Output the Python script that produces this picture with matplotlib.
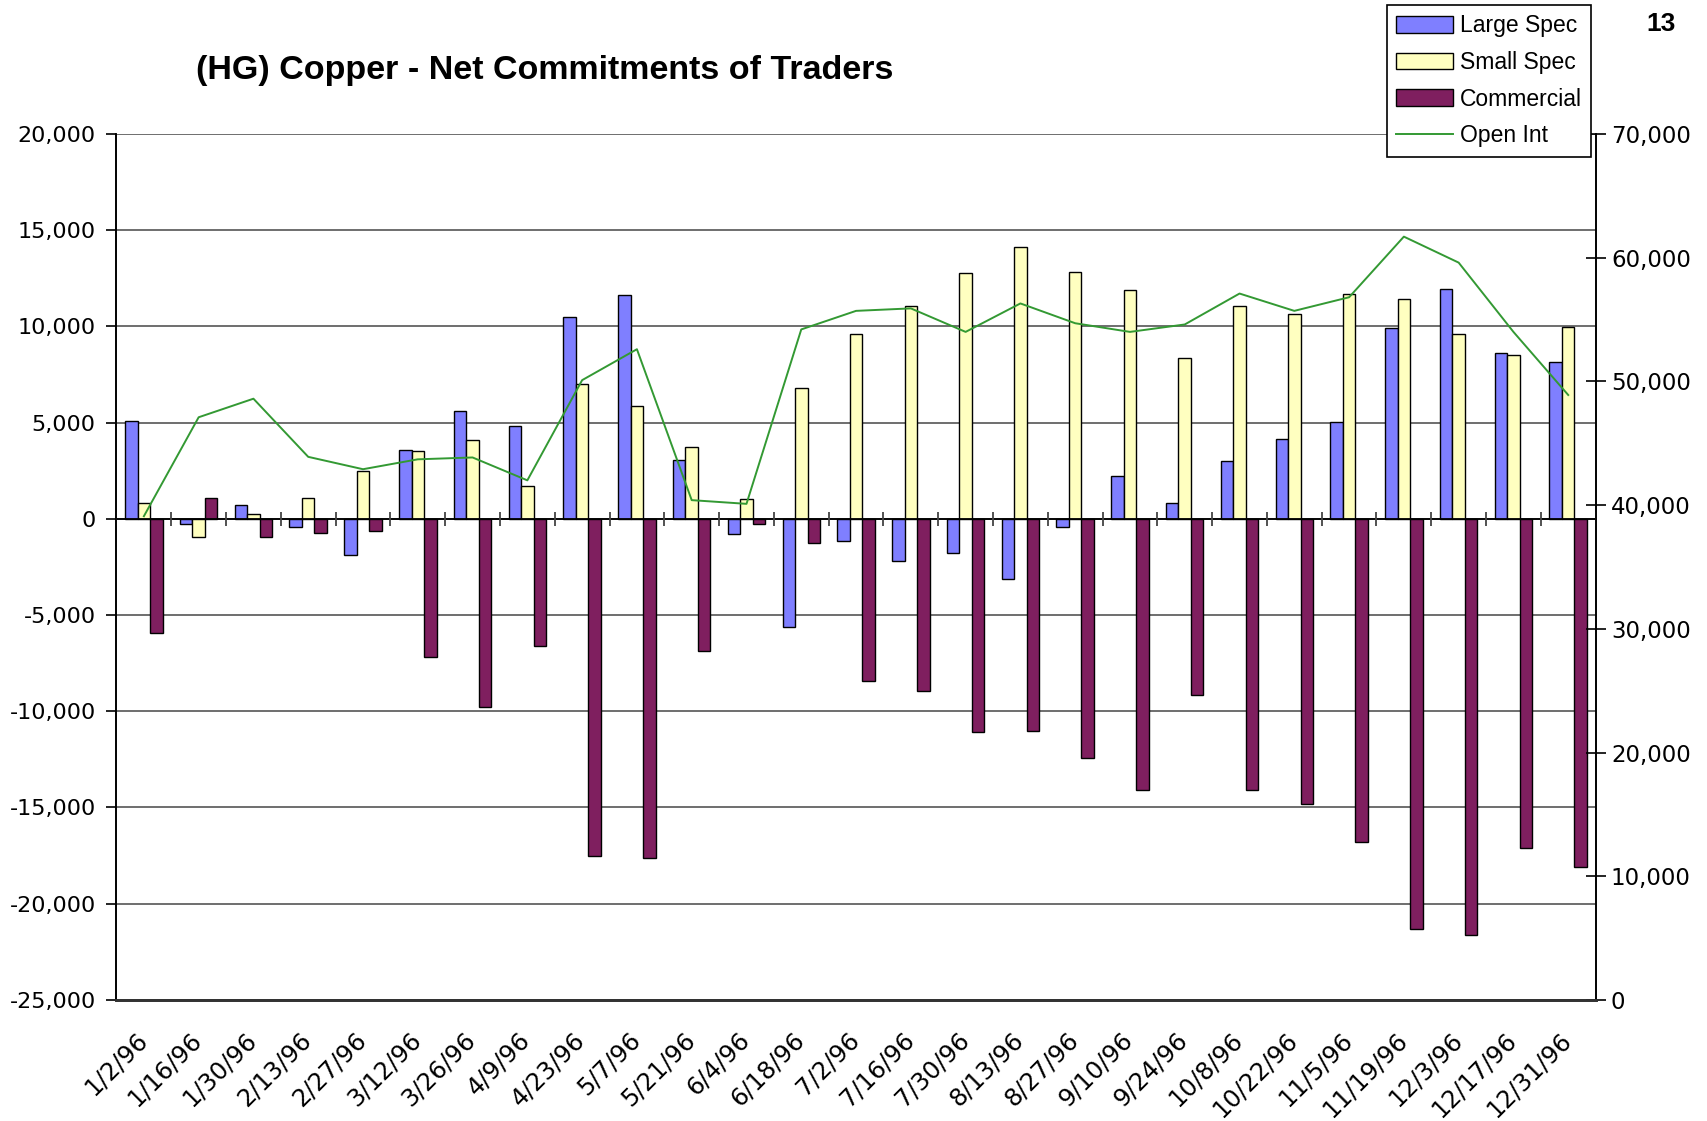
import numpy as np
import matplotlib
matplotlib.use('Agg')
import matplotlib.pyplot as plt
import matplotlib.transforms as mtransforms

dates = ['1/2/96', '1/16/96', '1/30/96', '2/13/96', '2/27/96', '3/12/96', '3/26/96',
         '4/9/96', '4/23/96', '5/7/96', '5/21/96', '6/4/96', '6/18/96', '7/2/96',
         '7/16/96', '7/30/96', '8/13/96', '8/27/96', '9/10/96', '9/24/96', '10/8/96',
         '10/22/96', '11/5/96', '11/19/96', '12/3/96', '12/17/96', '12/31/96']

large_spec = [5100, -250, 700, -400, -1900, 3600, 5600, 4850, 10500, 11650, 3050, -800,
              -5600, -1150, -2200, -1750, -3150, -450, 2200, 800, 3000, 4150, 5050,
              9900, 11950, 8600, 8150]
small_spec = [800, -950, 250, 1100, 2500, 3550, 4100, 1700, 7000, 5850, 3750, 1050,
              6800, 9600, 11050, 12800, 14150, 12850, 11900, 8350, 11050, 10650, 11700,
              11400, 9600, 8500, 9950]
commercial = [-5950, 1100, -950, -750, -650, -7200, -9800, -6600, -17500, -17600, -6850,
              -250, -1250, -8450, -8950, -11100, -11050, -12450, -14100, -9150, -14100,
              -14800, -16800, -21300, -21600, -17100, -18100]
open_int = [39100, 47100, 48600, 43900, 42900, 43700, 43850, 42000, 50100, 52600, 40400,
            40100, 54200, 55700, 55900, 54000, 56300, 54700, 54000, 54600, 57100, 55700,
            56800, 61700, 59600, 54000, 48900]

c_large = '#7f7fff'
c_small = '#ffffc0'
c_comm = '#7f1f5f'
c_oi = '#339933'

tick_font = 'DejaVu Sans'
text_font = 'Liberation Sans'

fig = plt.figure(figsize=(17.08, 11.21), dpi=100)
ax = fig.add_axes([0.0682, 0.108, 0.866, 0.7725])
ax2 = ax.twinx()

x = np.arange(len(dates))
w = 0.228
b1 = ax.bar(x - w, large_spec, w, color=c_large, edgecolor='black', linewidth=1.0, zorder=3, label='Large Spec')
b2 = ax.bar(x, small_spec, w, color=c_small, edgecolor='black', linewidth=1.0, zorder=3, label='Small Spec')
b3 = ax.bar(x + w, commercial, w, color=c_comm, edgecolor='black', linewidth=1.0, zorder=3, label='Commercial')

ax.set_ylim(-25000, 20000)
ax.set_xlim(-0.5, len(dates) - 0.5)
ax.set_yticks(np.arange(-25000, 20001, 5000))
ax.set_yticklabels(['{:,}'.format(v) for v in range(-25000, 20001, 5000)],
                   fontsize=16, family=tick_font)
ax.yaxis.grid(True, color='#555555', linewidth=1.2, zorder=0)
ax.set_axisbelow(True)

# zero line with category separators
ax.axhline(0, color='black', linewidth=1.3, zorder=4)
ax.vlines(np.arange(len(dates) + 1) - 0.5, -370, 370, color='#444444', linewidth=1.3, zorder=4)

ax.set_xticks(x)
ax.set_xticklabels(dates, rotation=45, ha='right', rotation_mode='anchor',
                   fontsize=17.5, family=tick_font)
ax.tick_params(axis='x', length=0, pad=20)
ax.tick_params(axis='y', direction='out', length=7, width=1.2, pad=8)
shift = mtransforms.ScaledTranslation(-9 / 100, 0, fig.dpi_scale_trans)
for lab in ax.get_xticklabels():
    lab.set_transform(lab.get_transform() + shift)

ax2.plot(x, open_int, color=c_oi, linewidth=1.4, zorder=5, label='Open Int')
ax2.set_ylim(0, 70000)
ax2.set_yticks(np.arange(0, 70001, 10000))
ax2.set_yticklabels(['{:,}'.format(v) for v in range(0, 70001, 10000)],
                    fontsize=16.5, family=tick_font)
ax2.tick_params(axis='y', direction='inout', length=14, width=1.2, pad=4)

for a in (ax, ax2):
    a.spines['top'].set_visible(False)
    a.spines['left'].set_linewidth(1.2)
    a.spines['right'].set_linewidth(1.2)
    a.spines['bottom'].set_linewidth(2.0)
    a.spines['bottom'].set_color('#333333')

fig.text(0.319, 0.937, '(HG) Copper - Net Commitments of Traders', fontsize=24.5,
         fontweight='bold', family=text_font, ha='center', va='center')
fig.text(0.9725, 0.979, '13', fontsize=19, fontweight='bold', family=text_font,
         ha='center', va='center')

handles = [b1, b2, b3, ax2.lines[0]]
leg = fig.legend(handles, [h.get_label() for h in handles], loc='upper left',
                 bbox_to_anchor=(1387 / 1708, 1 - 5 / 1121), prop={'family': text_font, 'size': 16.5},
                 frameon=True, fancybox=False, edgecolor='black', framealpha=1,
                 borderaxespad=0, handlelength=2.5, handleheight=0.75, labelspacing=0.6,
                 borderpad=0.4, handletextpad=0.3)
leg.get_frame().set_linewidth(1.2)

fig.savefig('out.png', dpi=100)
